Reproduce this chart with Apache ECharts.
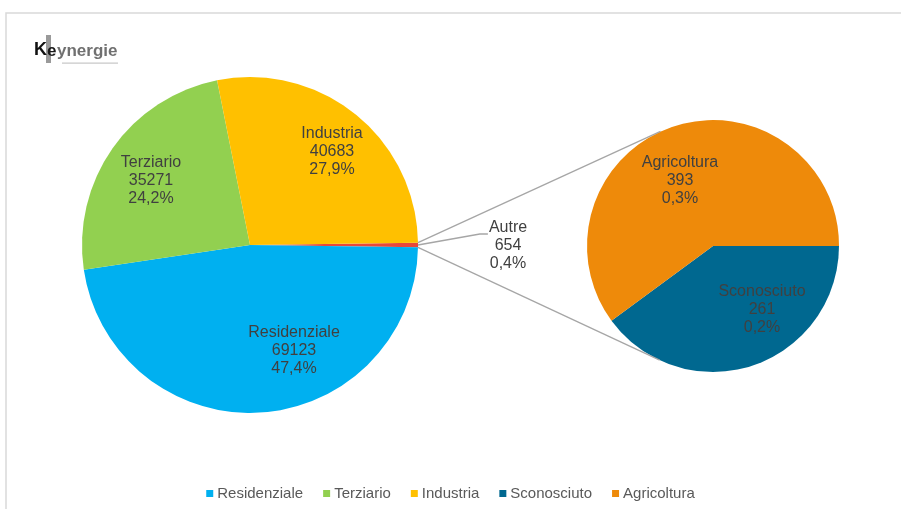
<!DOCTYPE html>
<html>
<head>
<meta charset="utf-8">
<title>Consumi per settore</title>
<script src="https://cdn.jsdelivr.net/npm/echarts@6/dist/echarts.min.js"></script>
<style>
  html, body { margin: 0; padding: 0; background: #ffffff; }
  #chart { width: 901px; height: 509px; }
</style>
</head>
<body>
<div id="chart"></div>
<script>
// Main pie: sectors, with "Autre" grouping the small ones
const mainCategories = ['Autre', 'Residenziale', 'Terziario', 'Industria'];
const mainValues = [654, 69123, 35271, 40683];

// Secondary pie: breakdown of "Autre"
const detailCategories = ['Sconosciuto', 'Agricoltura'];
const detailValues = [261, 393];

const legendNames = ['Residenziale', 'Terziario', 'Industria', 'Sconosciuto', 'Agricoltura'];

const palette = {
  Autre: '#E8483A',
  Residenziale: '#00B0F0',
  Terziario: '#92D050',
  Industria: '#FFC000',
  Sconosciuto: '#006890',
  Agricoltura: '#EE8A0A'
};

// Geometry of the two pies (pixels)
const mainPie = { cx: 250, cy: 245, r: 168 };
const detailPie = { cx: 713, cy: 246, r: 126 };

// Label anchor offsets from each pie's centre
const labelOffsets = {
  Residenziale: [44, 106],
  Terziario: [-99, -64],
  Industria: [82, -93],
  Autre: [258, 1],
  Agricoltura: [-33, -65],
  Sconosciuto: [49, 64]
};

const total = mainValues.reduce((a, b) => a + b, 0);
const pct = v => (v / total * 100).toFixed(1).replace('.', ',') + '%';

// The "Autre" slice is centred on the 3 o'clock direction
const autreHalfDeg = mainValues[0] / total * 180;

const labelText = '#404040';
const labelBase = {
  color: labelText,
  fontFamily: 'Liberation Sans, Arial, sans-serif',
  fontSize: 16,
  lineHeight: 18,
  align: 'center',
  verticalAlign: 'middle',
  formatter: p => p.name + '\n' + p.value + '\n' + pct(p.value)
};

const mainData = mainCategories.map((name, i) => {
  const item = { name: name, value: mainValues[i], itemStyle: { color: palette[name] } };
  if (name === 'Autre') {
    item.label = { position: 'outside' };
    item.labelLine = { show: true, lineStyle: { color: '#A6A6A6', width: 1.3 } };
  } else {
    item.label = { position: 'inside' };
    item.labelLine = { show: false };
  }
  return item;
});

const detailData = detailCategories.map((name, i) => ({
  name: name, value: detailValues[i], itemStyle: { color: palette[name] }
}));

function placeLabel(pie, names) {
  return function (params) {
    const name = names[params.dataIndex];
    const off = labelOffsets[name];
    const out = {
      x: pie.cx + off[0],
      y: pie.cy + off[1],
      align: 'center',
      verticalAlign: 'middle'
    };
    if (name === 'Autre') {
      // leader: slice edge -> elbow -> start of the first text line
      const edge = [pie.cx + pie.r, pie.cy];
      const rect = params.labelRect;
      const left = out.x - rect.width / 2;
      const firstLine = out.y - 18;
      out.labelLinePoints = [edge, [left - 9, firstLine + 6], [left - 1, firstLine + 6]];
    }
    return out;
  };
}

// Connector lines from the "Autre" slice edges to the tangents of the secondary pie
function tangentPoint(p, c, r, upper) {
  const dx = p[0] - c.cx, dy = p[1] - c.cy;
  const d = Math.sqrt(dx * dx + dy * dy);
  const phi = Math.atan2(dy, dx);
  const a = Math.acos(r / d);
  const t1 = [c.cx + r * Math.cos(phi + a), c.cy + r * Math.sin(phi + a)];
  const t2 = [c.cx + r * Math.cos(phi - a), c.cy + r * Math.sin(phi - a)];
  const top = t1[1] < t2[1] ? t1 : t2;
  const bottom = t1[1] < t2[1] ? t2 : t1;
  return upper ? top : bottom;
}
const rad = autreHalfDeg * Math.PI / 180;
const edgeTop = [mainPie.cx + mainPie.r * Math.cos(rad), mainPie.cy - mainPie.r * Math.sin(rad)];
const edgeBottom = [mainPie.cx + mainPie.r * Math.cos(rad), mainPie.cy + mainPie.r * Math.sin(rad)];
const tanTop = tangentPoint(edgeTop, detailPie, detailPie.r, true);
const tanBottom = tangentPoint(edgeBottom, detailPie, detailPie.r, false);

const connectorStyle = { stroke: '#A6A6A6', lineWidth: 1.3 };

const chart = echarts.init(document.getElementById('chart'), null, { renderer: 'canvas' });

chart.setOption({
  backgroundColor: '#ffffff',
  animation: false,
  legend: {
    data: legendNames,
    left: 'center',
    top: 481,
    icon: 'rect',
    itemWidth: 7,
    itemHeight: 7,
    itemGap: 20,
    selectedMode: false,
    textStyle: {
      color: '#595959',
      fontFamily: 'Liberation Sans, Arial, sans-serif',
      fontSize: 15,
      padding: [0, 0, 0, -1]
    }
  },
  graphic: [
    // chart frame
    {
      type: 'rect', z: -10, silent: true,
      shape: { x: 6, y: 13, width: 900, height: 505 },
      style: { fill: null, stroke: '#D9D9D9', lineWidth: 1.5 }
    },
    // logo
    {
      type: 'rect', silent: true,
      shape: { x: 46, y: 35, width: 5, height: 28 },
      style: { fill: '#9A9A9A' }
    },
    {
      type: 'text', silent: true, x: 34, y: 50,
      style: {
        text: 'K', fill: '#111111', fontSize: 18, fontWeight: 'bold',
        fontFamily: 'Liberation Sans, Arial, sans-serif', verticalAlign: 'middle'
      }
    },
    {
      type: 'text', silent: true, x: 47, y: 51,
      style: {
        text: 'e', fill: '#1a1a1a', fontSize: 17, fontWeight: 'bold',
        fontFamily: 'Liberation Sans, Arial, sans-serif', verticalAlign: 'middle'
      }
    },
    {
      type: 'text', silent: true, x: 57, y: 51,
      style: {
        text: 'ynergie', fill: '#707070', fontSize: 17, fontWeight: 'bold',
        fontFamily: 'Liberation Sans, Arial, sans-serif', verticalAlign: 'middle'
      }
    },
    {
      type: 'rect', silent: true,
      shape: { x: 62, y: 62.5, width: 56, height: 1.2 },
      style: { fill: '#C8C8C8' }
    },
    // pie-of-pie connectors
    {
      type: 'line', silent: true, z: 5,
      shape: { x1: edgeTop[0], y1: edgeTop[1], x2: tanTop[0], y2: tanTop[1] },
      style: connectorStyle
    },
    {
      type: 'line', silent: true, z: 5,
      shape: { x1: edgeBottom[0], y1: edgeBottom[1], x2: tanBottom[0], y2: tanBottom[1] },
      style: connectorStyle
    }
  ],
  series: [
    {
      name: 'Settori',
      type: 'pie',
      center: [mainPie.cx, mainPie.cy],
      radius: [0, mainPie.r],
      startAngle: autreHalfDeg,
      clockwise: true,
      avoidLabelOverlap: false,
      silent: true,
      itemStyle: { borderWidth: 0 },
      label: Object.assign({ show: true }, labelBase),
      labelLine: { show: false },
      labelLayout: placeLabel(mainPie, mainCategories),
      data: mainData
    },
    {
      name: 'Autre',
      type: 'pie',
      center: [detailPie.cx, detailPie.cy],
      radius: [0, detailPie.r],
      startAngle: 0,
      clockwise: true,
      avoidLabelOverlap: false,
      silent: true,
      itemStyle: { borderWidth: 0 },
      label: Object.assign({ show: true, position: 'inside' }, labelBase),
      labelLine: { show: false },
      labelLayout: placeLabel(detailPie, detailCategories),
      data: detailData
    }
  ]
});
</script>
</body>
</html>
